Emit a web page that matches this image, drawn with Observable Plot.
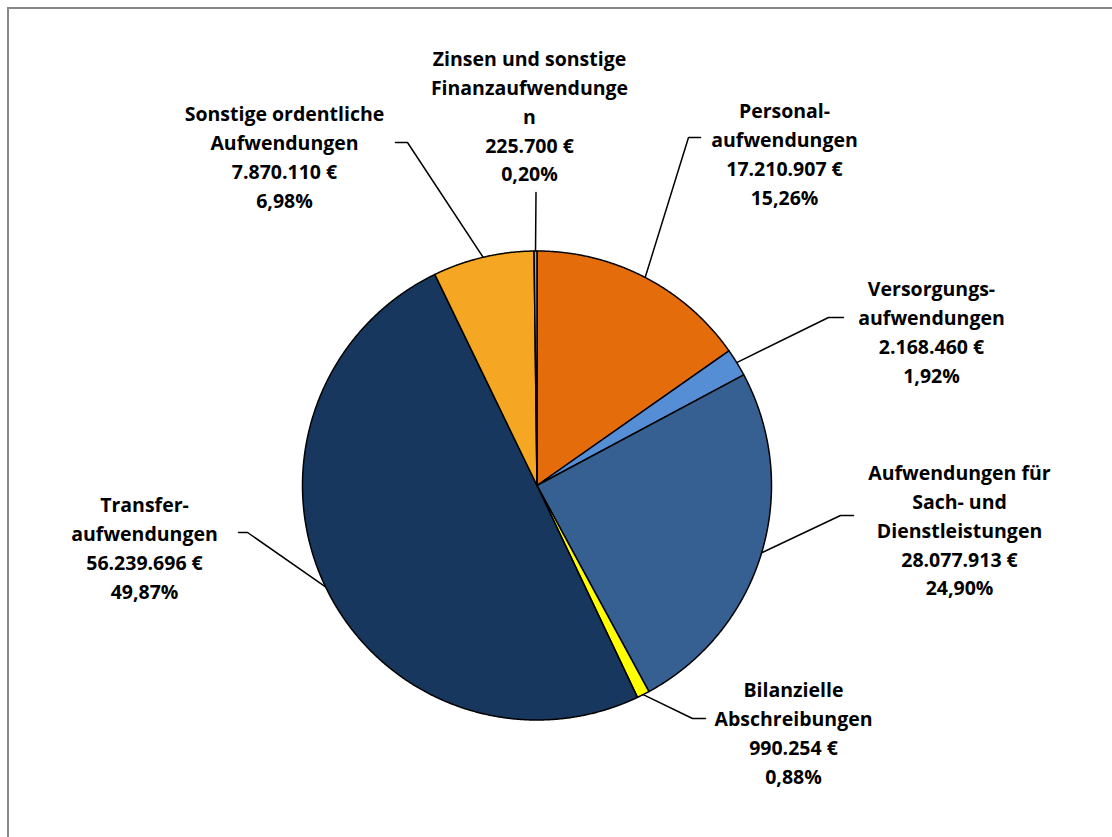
<!DOCTYPE html>
<html>
<head>
<meta charset="utf-8">
<script src="https://cdn.jsdelivr.net/npm/d3@7"></script>
<script src="https://cdn.jsdelivr.net/npm/@observablehq/plot@0.6"></script>
<style>
  html, body { margin: 0; padding: 0; background: #fff; overflow: hidden; }
  #wrap { position: relative; width: 1112px; height: 837px; }
  #frame { position: absolute; left: 7px; top: 7px; width: 1120px; height: 850px; border: 2px solid #888; box-sizing: border-box; pointer-events: none; }
  #chart { position: absolute; left: 0; top: 0; }
</style>
</head>
<body>
<div id="wrap"><div id="chart"></div><div id="frame"></div></div>
<script>
// ---- data ----
const categories = [
  "Personalaufwendungen",
  "Versorgungsaufwendungen",
  "Aufwendungen für Sach- und Dienstleistungen",
  "Bilanzielle Abschreibungen",
  "Transferaufwendungen",
  "Sonstige ordentliche Aufwendungen",
  "Zinsen und sonstige Finanzaufwendungen"
];
const values = [17210907, 2168460, 28077913, 990254, 56239696, 7870110, 225700];
const labelNames = [
  "Personal-\naufwendungen",
  "Versorgungs-\naufwendungen",
  "Aufwendungen für\nSach- und\nDienstleistungen",
  "Bilanzielle\nAbschreibungen",
  "Transfer-\naufwendungen",
  "Sonstige ordentliche\nAufwendungen",
  "Zinsen und sonstige\nFinanzaufwendunge\nn"
];
const colors = ["#E46C0A", "#558ED5", "#376092", "#FFFF00", "#17375E", "#F5A623", "#A6A6A6"];

// ---- layout (pixels) ----
const W = 1112, H = 837;
const cx = 536.5, cy = 485, R = 234.5;
// label block centre, elbow of leader, end of the horizontal tick
const labelLayout = [
  {lx: 784, ly: 152, elbow: [688, 137], tick: [700, 137]},
  {lx: 931, ly: 330, elbow: [828, 317], tick: [843, 317]},
  {lx: 959, ly: 528, elbow: [840, 515], tick: [853, 515]},
  {lx: 793, ly: 731, elbow: [692, 718], tick: [705, 718]},
  {lx: 144, ly: 546, elbow: [247, 532], tick: [238, 532]},
  {lx: 284, ly: 155, elbow: [407, 142], tick: [395, 142]},
  {lx: 529, ly: 114, elbow: [535.5, 192], tick: [535.5, 192]}
];

const loc = d3.formatLocale({decimal: ",", thousands: ".", grouping: [3], currency: ["", " €"]});
const fmtNum = loc.format(",.0f");
const fmtPct = loc.format(".2f");
const total = d3.sum(values);

const arcs = d3.pie().sort(null).startAngle(0).endAngle(2 * Math.PI)(values);

// slice polygons
const slicePts = [];
arcs.forEach((a, i) => {
  const n = Math.max(2, Math.ceil((a.endAngle - a.startAngle) / (Math.PI / 720)));
  slicePts.push({name: categories[i], x: cx, y: cy});
  for (let k = 0; k <= n; k++) {
    const t = a.startAngle + (a.endAngle - a.startAngle) * k / n;
    slicePts.push({name: categories[i], x: cx + R * Math.sin(t), y: cy - R * Math.cos(t)});
  }
  slicePts.push({name: categories[i], x: cx, y: cy});
});

// leader lines
const leaderPts = [];
arcs.forEach((a, i) => {
  const m = (a.startAngle + a.endAngle) / 2;
  const L = labelLayout[i];
  leaderPts.push({name: categories[i], x: L.tick[0], y: L.tick[1]});
  leaderPts.push({name: categories[i], x: L.elbow[0], y: L.elbow[1]});
  leaderPts.push({name: categories[i], x: cx + R * Math.sin(m), y: cy - R * Math.cos(m)});
});

const labels = arcs.map((a, i) => ({
  x: labelLayout[i].lx,
  y: labelLayout[i].ly,
  text: labelNames[i] + "\n" + fmtNum(values[i]) + " €\n" + fmtPct(values[i] / total * 100) + "%"
}));

const chart = Plot.plot({
  width: W,
  height: H,
  margin: 0,
  x: {domain: [0, W], range: [0, W], axis: null},
  y: {domain: [0, H], range: [0, H], axis: null},
  color: {domain: categories, range: colors},
  style: {fontFamily: "'Open Sans', 'Noto Sans', sans-serif", background: "white"},
  marks: [
    Plot.line(leaderPts, {x: "x", y: "y", z: "name", stroke: "black", strokeWidth: 1.5, curve: "linear"}),
    Plot.line(slicePts, {x: "x", y: "y", z: "name", fill: "name", stroke: "black", strokeWidth: 1.5, strokeLinejoin: "round", curve: "linear"}),
    Plot.text(labels, {x: "x", y: "y", text: "text", fontSize: 19.5, fontWeight: "bold", lineHeight: 1.48, textAnchor: "middle", lineAnchor: "middle", fill: "black"})
  ]
});
document.getElementById("chart").appendChild(chart);
</script>
</body>
</html>
